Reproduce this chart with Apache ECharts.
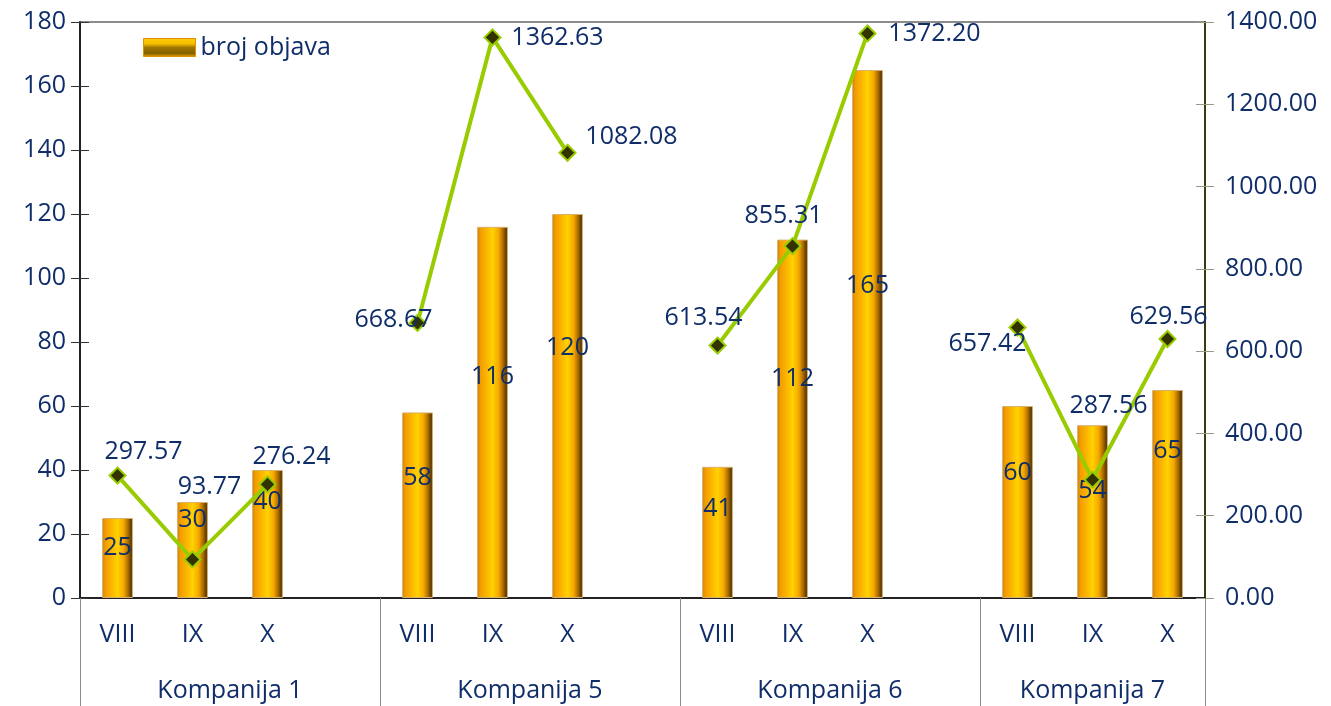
<!DOCTYPE html>
<html>
<head>
<meta charset="utf-8">
<script src="https://cdn.jsdelivr.net/npm/echarts@6/dist/echarts.min.js"></script>
<style>html,body{margin:0;padding:0;background:#fff}#c{width:1331px;height:706px}</style>
</head>
<body>
<div id="c"></div>
<script>
// ---- data ----
const groups = ['Kompanija 1', 'Kompanija 5', 'Kompanija 6', 'Kompanija 7'];
const months = ['VIII', 'IX', 'X'];
const brojObjava = [[25, 30, 40], [58, 116, 120], [41, 112, 165], [60, 54, 65]];
const lineValues = [[297.57, 93.77, 276.24], [668.67, 1362.63, 1082.08], [613.54, 855.31, 1372.20], [657.42, 287.56, 629.56]];
const leftTicks = { min: 0, max: 180, interval: 20 };
const rightTicks = { min: 0, max: 1400, interval: 200 };

// ---- label layout (style only) ----
const barLabelDy = [[-10, -30, -32], [-27, -36, -58], [-24, -40, -48], [-29, -21, -43]];
const lineLabelOffset = [
  [[26, -24], [17, -73], [24, -27]],
  [[-24, -3], [65, 0], [64, -16]],
  [[-14, -28], [-9, -30], [67, 0]],
  [[-30, 16], [16, -74], [1, -22]]
];

const navy = '#0F2D69';
const FONT = 'Open Sans';
const FS = 25;

const categories = [], barData = [], lineData = [], groupBounds = [0], groupCenters = [];
let idx = 0;
groups.forEach((g, gi) => {
  const start = idx;
  months.forEach((m, mi) => {
    categories.push(m);
    barData.push({ value: brojObjava[gi][mi], label: { offset: [0, barLabelDy[gi][mi]] } });
    lineData.push({ value: lineValues[gi][mi], label: { offset: lineLabelOffset[gi][mi] } });
    idx++;
  });
  if (gi < groups.length - 1) { categories.push(''); barData.push(null); lineData.push(null); idx++; }
  groupBounds.push(idx);
  groupCenters.push((start + idx) / 2);
});

const barGrad = {
  type: 'linear', x: 0, y: 0, x2: 1, y2: 0,
  colorStops: [
    { offset: 0, color: '#c87a00' },
    { offset: 0.1, color: '#f29c00' },
    { offset: 0.3, color: '#fbb400' },
    { offset: 0.5, color: '#ffd200' },
    { offset: 0.7, color: '#f5a800' },
    { offset: 0.85, color: '#a86800' },
    { offset: 1, color: '#2e2000' }
  ]
};
const legendGrad = {
  type: 'linear', x: 0, y: 0, x2: 0, y2: 1,
  colorStops: [
    { offset: 0, color: '#ffcc00' },
    { offset: 0.3, color: '#f5c000' },
    { offset: 0.5, color: '#a07800' },
    { offset: 0.8, color: '#806000' },
    { offset: 1, color: '#f0a000' }
  ]
};

const chart = echarts.init(document.getElementById('c'));
chart.setOption({
  animation: false,
  textStyle: { fontFamily: FONT },
  grid: { left: 80, right: 126, top: 22, bottom: 108, show: true, borderColor: '#8c8c8c', borderWidth: 2, backgroundColor: 'transparent' },
  legend: {
    data: [{ name: 'broj objava', itemStyle: { color: legendGrad, borderColor: '#e09000', borderWidth: 1 } }],
    left: 138, top: 30, icon: 'rect', itemWidth: 52, itemHeight: 18,
    textStyle: { color: navy, fontSize: FS, fontFamily: FONT }
  },
  xAxis: [
    {
      type: 'category', data: categories, position: 'bottom',
      axisLine: { lineStyle: { color: '#000', width: 1.5 } },
      axisTick: { show: false },
      axisLabel: { color: navy, fontSize: FS, fontFamily: FONT, margin: 24, interval: 0 }
    },
    {
      type: 'value', min: 0, max: categories.length, position: 'bottom',
      axisLine: { show: false },
      splitLine: { show: false },
      axisTick: { show: true, customValues: groupBounds, length: 108, lineStyle: { color: '#8c8c8c', width: 1 } },
      axisLabel: {
        customValues: groupCenters, color: navy, fontSize: FS, fontFamily: FONT, margin: 80,
        formatter: v => { const i = groupCenters.indexOf(v); return i >= 0 ? groups[i] : ''; }
      }
    }
  ],
  yAxis: [
    {
      type: 'value', position: 'left', ...leftTicks,
      axisLine: { show: true, lineStyle: { color: '#000', width: 1.5 } },
      axisTick: { show: true, length: 9, lineStyle: { color: '#333' } },
      splitLine: { show: false },
      axisLabel: { color: navy, fontSize: FS, fontFamily: FONT, margin: 14 }
    },
    {
      type: 'value', position: 'right', ...rightTicks,
      axisLine: { show: true, lineStyle: { color: '#3a3a10', width: 2 } },
      axisTick: { show: true, length: 9, lineStyle: { color: '#9a9a80' } },
      splitLine: { show: false },
      axisLabel: { color: navy, fontSize: FS, fontFamily: FONT, margin: 20, formatter: v => v.toFixed(2) }
    },
    {
      type: 'value', position: 'left', ...leftTicks,
      axisLine: { show: false }, axisLabel: { show: false }, splitLine: { show: false },
      axisTick: { show: true, inside: true, length: 9, lineStyle: { color: '#333' } }
    },
    {
      type: 'value', position: 'right', ...rightTicks,
      axisLine: { show: false }, axisLabel: { show: false }, splitLine: { show: false },
      axisTick: { show: true, inside: true, length: 9, lineStyle: { color: '#9a9a80' } }
    }
  ],
  series: [
    {
      name: 'broj objava', type: 'bar', xAxisIndex: 0, yAxisIndex: 0, data: barData, barWidth: '41%',
      itemStyle: { color: barGrad, borderColor: '#d8b070', borderWidth: 1 },
      label: { show: true, position: 'inside', color: navy, fontSize: FS, fontFamily: FONT }
    },
    {
      name: 'vrijednost', type: 'line', xAxisIndex: 0, yAxisIndex: 1, data: lineData,
      symbol: 'diamond', symbolSize: 16, connectNulls: false,
      lineStyle: { color: '#99CC00', width: 4 },
      itemStyle: { color: '#333300', borderColor: '#99CC00', borderWidth: 2 },
      label: { show: true, position: 'inside', color: navy, fontSize: FS, fontFamily: FONT, formatter: p => p.value.toFixed(2) },
      z: 5
    }
  ]
});
</script>
</body>
</html>
